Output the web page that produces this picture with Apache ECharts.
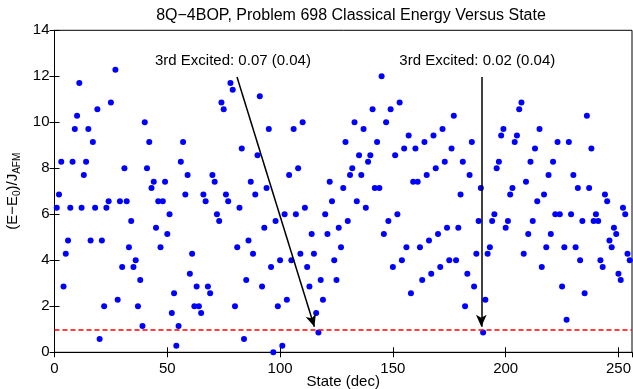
<!DOCTYPE html>
<html>
<head>
<meta charset="utf-8">
<script src="https://cdn.jsdelivr.net/npm/echarts@6/dist/echarts.min.js"></script>
<style>html,body{margin:0;padding:0;background:#fff}#c{width:633px;height:389px}</style>
</head>
<body>
<div id="c"></div>
<script>
// State indices (dec) and classical energies (E-E0)/J_AFM
const states = [1,2,3,4,5,6,7,8,9,10,11,12,13,14,15,16,17,18,19,20,21,22,23,24,25,27,28,29,30,31,32,33,34,35,36,37,38,39,40,41,42,43,44,45,46,47,48,49,50,51,52,53,54,55,56,57,58,59,60,61,62,63,64,65,66,67,68,69,70,71,72,73,74,75,76,77,78,79,80,81,82,83,84,85,86,87,88,89,90,91,92,93,94,95,96,97,98,99,100,101,102,103,104,105,106,107,108,109,110,111,112,113,114,115,116,117,118,119,120,121,122,123,124,125,126,127,128,129,130,131,132,133,134,135,136,137,138,139,140,141,142,143,144,145,146,147,148,149,150,151,152,153,154,155,156,157,158,159,160,161,162,163,164,165,166,167,168,169,170,171,172,173,174,175,176,177,178,179,180,181,182,183,184,185,186,187,188,189,190,191,192,193,194,195,196,197,198,199,200,201,202,203,204,205,206,207,208,209,210,211,212,213,214,215,216,217,218,219,220,221,222,223,224,225,226,227,228,229,230,231,232,233,234,235,236,237,238,239,240,241,242,243,244,245,246,247,248,249,250,251,252,253,254,255];
const energies = [6.28,6.86,8.28,2.86,4.28,4.86,6.28,8.28,9.71,10.29,11.71,6.28,7.71,8.28,9.71,4.86,9.14,6.28,10.57,0.58,4.86,2.0,6.28,6.57,10.86,12.29,2.29,6.57,3.71,8.0,6.57,4.57,5.71,3.71,4.0,2.0,3.14,1.14,10.0,8.0,9.14,7.14,7.42,5.42,6.57,4.57,6.57,7.42,5.14,6.0,1.71,2.57,0.28,1.14,8.28,9.14,6.86,7.71,3.42,4.28,2.0,2.86,2.0,1.71,6.86,6.57,2.86,2.57,7.71,7.42,6.0,5.71,10.86,10.57,6.86,6.57,11.71,11.42,2.0,4.57,6.28,8.86,0.58,3.14,4.86,7.42,4.28,6.86,8.57,11.13,2.86,5.42,7.14,9.71,3.71,0.0,5.71,2.0,4.0,0.28,6.0,2.29,7.71,4.0,9.71,6.0,8.0,4.28,10.0,6.28,3.71,2.86,5.14,4.28,1.71,0.86,3.14,2.29,6.0,5.14,7.42,6.57,4.0,3.14,5.42,4.57,7.14,9.14,5.71,7.71,8.0,10.0,6.57,8.57,7.71,9.71,6.28,8.28,8.57,10.57,7.14,9.14,7.14,12.0,5.14,10.0,5.71,10.57,3.71,8.57,6.0,10.86,4.0,8.86,4.57,9.43,2.57,7.42,8.86,7.42,4.57,3.14,9.14,7.71,4.86,3.42,9.43,8.0,5.14,3.71,9.71,8.28,5.42,4.0,8.86,10.29,4.0,5.42,6.86,8.28,2.0,3.42,7.71,9.14,2.86,4.28,5.71,7.14,0.86,2.29,4.28,4.57,5.71,6.0,8.0,8.28,9.43,9.71,5.42,5.71,6.86,7.14,9.14,9.43,10.57,10.86,4.28,7.42,5.14,8.28,5.71,8.86,6.57,9.71,3.71,6.86,4.57,7.71,5.14,8.28,6.0,9.14,6.0,2.86,4.57,1.42,9.14,6.0,7.71,4.57,7.14,4.0,5.71,2.57,10.29,7.14,8.86,5.71,6.0,5.71,4.0,3.71,6.86,6.57,4.86,4.57,5.42,5.14,3.42,3.14,6.28,6.0,4.28,4.0];
const xTicks = [0, 50, 100, 150, 200, 250];
const yTicks = [0, 2, 4, 6, 8, 10, 12, 14];
const referenceLevel = 1;
const annotations = [
  {text: '3rd Excited: 0.07 (0.04)', from: [80.9, 11.97], to: [115.2, 1.11]},
  {text: '3rd Excited: 0.02 (0.04)', from: [189.2, 11.97], to: [189.2, 1.11]}
];

const FONT = '"Liberation Sans", Arial, Helvetica, sans-serif';
const FS = 15;
const chart = echarts.init(document.getElementById('c'), null, {renderer: 'canvas'});
const pts = states.map((s, i) => [s, energies[i]]);

const axisCommon = {
  axisLine: {show: true, lineStyle: {color: '#000', width: 1}},
  axisTick: {show: true, inside: true, length: 5, lineStyle: {color: '#000', width: 1}},
  splitLine: {show: false}
};

const option = {
  animation: false,
  backgroundColor: '#fff',
  title: {
    text: '8Q\u22124BOP, Problem 698 Classical Energy Versus State',
    left: 346, top: 3, textAlign: 'center',
    textStyle: {fontFamily: FONT, fontSize: 16, fontWeight: 'normal', color: '#000'}
  },
  grid: {left: 54.5, right: 1, top: 30.3, bottom: 36.7, outerBoundsMode: 'none', containLabel: false,
    show: true, borderColor: '#000', borderWidth: 1, backgroundColor: '#fff'},
  xAxis: [
    Object.assign({
      type: 'value', min: 0, max: 256, interval: 50, position: 'bottom',
      name: 'State (dec)', nameLocation: 'middle', nameGap: 22, nameMoveOverlap: false,
      nameTextStyle: {fontFamily: FONT, fontSize: FS, color: '#000'},
      axisLabel: {fontFamily: FONT, fontSize: FS, color: '#000', margin: 9, showMaxLabel: false}
    }, axisCommon),
    Object.assign({
      type: 'value', min: 0, max: 256, interval: 50, position: 'top',
      axisLabel: {show: false}
    }, axisCommon)
  ],
  yAxis: [
    Object.assign({
      type: 'value', min: 0, max: 14, interval: 2, position: 'left',
      name: '(E\u2212E{sub|0})/J{sub|AFM}', nameLocation: 'middle', nameGap: 32, nameRotate: 90,
      nameMoveOverlap: false,
      nameTextStyle: {fontFamily: FONT, fontSize: FS, color: '#000',
        rich: {sub: {fontFamily: FONT, fontSize: 10, color: '#000', padding: [9, 0, 0, 0]}}},
      axisLabel: {fontFamily: FONT, fontSize: FS, color: '#000', margin: 5,
        formatter: v => (yTicks.indexOf(v) >= 0 ? String(v) : '')}
    }, axisCommon),
    Object.assign({
      type: 'value', min: 0, max: 14, interval: 2, position: 'right',
      axisLabel: {show: false}
    }, axisCommon)
  ],
  series: [
    {
      type: 'scatter', xAxisIndex: 0, yAxisIndex: 0,
      data: pts, symbol: 'circle', symbolSize: 6,
      itemStyle: {color: '#0000ff', opacity: 1},
      markLine: {
        silent: true, symbol: ['none', 'none'], animation: false,
        label: {show: false},
        lineStyle: {color: '#ff0000', type: [5, 3], width: 1.5},
        data: [{yAxis: referenceLevel}]
      },
      z: 2
    },
    {
      type: 'scatter', xAxisIndex: 0, yAxisIndex: 0, data: [],
      markLine: {
        silent: true, symbol: ['none', 'arrow'], symbolSize: [8, 12], animation: false,
        label: {show: false},
        lineStyle: {color: '#000', type: 'solid', width: 1.5},
        data: annotations.map(a => [{coord: a.from}, {coord: a.to}])
      },
      z: 3
    }
  ],
  graphic: []
};
chart.setOption(option);

// place annotation texts just above their arrow starts
const g = annotations.map((a, i) => {
  const p = chart.convertToPixel({xAxisIndex: 0, yAxisIndex: 0}, a.from);
  return {
    type: 'text', z: 10,
    x: p[0] - 82, y: p[1] - 9,
    style: {text: a.text, fontFamily: FONT, fontSize: FS, fill: '#000', textVerticalAlign: 'bottom'}
  };
});
chart.setOption({graphic: g});
</script>
</body>
</html>
